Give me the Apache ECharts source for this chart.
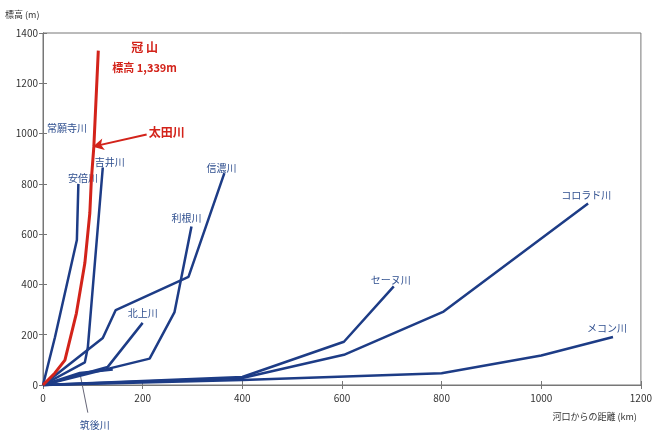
<!DOCTYPE html>
<html>
<head>
<meta charset="utf-8">
<script src="https://cdn.jsdelivr.net/npm/echarts@6/dist/echarts.min.js"></script>
<style>
  html, body { margin: 0; padding: 0; background: #fff; }
  #chart { width: 655px; height: 435px; }
</style>
</head>
<body>
<div id="chart"></div>
<script>
// 河口からの距離 (km) と標高 (m)
const xTicks = [0, 200, 400, 600, 800, 1000, 1200]
const yTicks = [0, 200, 400, 600, 800, 1000, 1200, 1400]

const ota = [[0, 0], [24, 48], [44, 99], [67, 285], [84, 485], [94, 684], [97, 815], [102, 947], [111, 1330]]
const abe = [[0, 0], [24, 190], [68, 577], [71, 800]]
const yoshii = [[0, 0], [84, 90], [90, 150], [120, 865]]
const shinano = [[0, 0], [120, 187], [146, 298], [292, 430], [364, 843]]
const tone = [[0, 0], [134, 66], [214, 105], [264, 290], [298, 630]]
const kitakami = [[0, 0], [130, 72], [200, 247]]
const chikugo = [[0, 0], [74, 48], [140, 62]]
const seine = [[0, 0], [400, 32], [604, 172], [704, 392]]
const colorado = [[0, 0], [400, 28], [604, 120], [804, 292], [1094, 722]]
const mekong = [[0, 0], [400, 20], [800, 47], [1000, 117], [1144, 191]]

// ラベル位置 (データ座標, 左端)
const labels = [
  { text: '常願寺川', at: [8, 1022] },
  { text: '吉井川', at: [104, 887] },
  { text: '安倍川', at: [50, 823] },
  { text: '信濃川', at: [328, 863] },
  { text: '利根川', at: [258, 664] },
  { text: '北上川', at: [170, 286] },
  { text: '筑後川', at: [74, -160] },
  { text: 'セーヌ川', at: [658, 418] },
  { text: 'コロラド川', at: [1040, 756] },
  { text: 'メコン川', at: [1092, 227] }
]

const navy = '#1d3c86'
const red = '#d3231a'
const labelBlue = '#2f4f8f'
const font = '"Noto Sans CJK JP", "DejaVu Sans", sans-serif'

const chart = echarts.init(document.getElementById('chart'))

const riverLine = (data, color, width) => ({
  type: 'line',
  data: data,
  symbol: 'none',
  clip: false,
  lineStyle: { color: color, width: width },
  z: color === red ? 5 : 3
})

const plain = v => String(v)

const option = {
  backgroundColor: '#fff',
  animation: false,
  grid: { left: 43, right: 12, top: 33, bottom: 50, show: true, borderColor: '#777', borderWidth: 1 },
  xAxis: [
    {
      type: 'value', min: xTicks[0], max: xTicks[xTicks.length - 1], interval: 200,
      axisLine: { show: true, lineStyle: { color: '#777' } },
      axisTick: { show: true, inside: true, length: 4, lineStyle: { color: '#777' } },
      axisLabel: { color: '#333', fontSize: 10, fontFamily: font, margin: 8, formatter: plain },
      splitLine: { show: false },
      name: '河口からの距離 (km)',
      nameLocation: 'end',
      nameGap: 0,
      nameTextStyle: { color: '#333', fontSize: 9, fontFamily: font, align: 'right', verticalAlign: 'top', padding: [27, 4, 0, 0] }
    },
    {
      type: 'value', min: xTicks[0], max: xTicks[xTicks.length - 1], interval: 200, position: 'top',
      axisLine: { show: true, lineStyle: { color: '#777' } },
      axisTick: { show: true, inside: true, length: 4, lineStyle: { color: '#777' } },
      axisLabel: { show: false },
      splitLine: { show: false }
    }
  ],
  yAxis: [
    {
      type: 'value', min: yTicks[0], max: yTicks[yTicks.length - 1], interval: 200,
      axisLine: { show: true, lineStyle: { color: '#777' } },
      axisTick: { show: true, inside: true, length: 4, lineStyle: { color: '#777' } },
      axisLabel: { color: '#333', fontSize: 10, fontFamily: font, margin: 5, formatter: plain },
      splitLine: { show: false },
      name: '標高 (m)',
      nameLocation: 'end',
      nameGap: 14,
      nameTextStyle: { color: '#333', fontSize: 9, fontFamily: font, align: 'left', padding: [0, 0, 0, -38] }
    },
    {
      type: 'value', min: yTicks[0], max: yTicks[yTicks.length - 1], interval: 200, position: 'right',
      axisLine: { show: true, lineStyle: { color: '#777' } },
      axisTick: { show: true, inside: true, length: 4, lineStyle: { color: '#777' } },
      axisLabel: { show: false },
      splitLine: { show: false }
    }
  ],
  series: [
    riverLine(mekong, navy, 2.5),
    riverLine(colorado, navy, 2.5),
    riverLine(seine, navy, 2.5),
    riverLine(chikugo, navy, 2.5),
    riverLine(kitakami, navy, 2.5),
    riverLine(tone, navy, 2.5),
    riverLine(shinano, navy, 2.5),
    riverLine(yoshii, navy, 2.5),
    riverLine(abe, navy, 2.5),
    Object.assign(riverLine(ota, red, 3), {
      markLine: {
        silent: true,
        symbol: ['none', 'arrow'],
        symbolSize: [9, 11],
        label: { show: false },
        lineStyle: { color: red, width: 2, type: 'solid' },
        data: [[{ coord: [208, 996] }, { coord: [100, 948] }]]
      }
    })
  ]
}
chart.setOption(option)

// テキスト注記
const graphics = labels.map(l => {
  const p = chart.convertToPixel({ xAxisIndex: 0, yAxisIndex: 0 }, l.at)
  return {
    type: 'text', x: p[0], y: p[1],
    style: { text: l.text, fill: labelBlue, font: '10px ' + font, verticalAlign: 'middle' }
  }
})
const p0 = chart.convertToPixel({ xAxisIndex: 0, yAxisIndex: 0 }, [74, 48])
const p1 = chart.convertToPixel({ xAxisIndex: 0, yAxisIndex: 0 }, [90, -110])
graphics.push({ type: 'line', shape: { x1: p0[0], y1: p0[1], x2: p1[0], y2: p1[1] }, style: { stroke: '#667', lineWidth: 1 } })
const pk = chart.convertToPixel({ xAxisIndex: 0, yAxisIndex: 0 }, [204, 1343])
graphics.push({ type: 'text', x: pk[0], y: pk[1], style: { text: '冠 山', fill: red, font: 'bold 12px ' + font, align: 'center', verticalAlign: 'middle' } })
const ph = chart.convertToPixel({ xAxisIndex: 0, yAxisIndex: 0 }, [204, 1263])
graphics.push({ type: 'text', x: ph[0], y: ph[1], style: { text: '標高 1,339m', fill: red, font: 'bold 11px ' + font, align: 'center', verticalAlign: 'middle' } })
const po = chart.convertToPixel({ xAxisIndex: 0, yAxisIndex: 0 }, [212, 1006])
graphics.push({ type: 'text', x: po[0], y: po[1], style: { text: '太田川', fill: red, font: 'bold 12px ' + font, verticalAlign: 'middle' } })

chart.setOption({ graphic: graphics })
</script>
</body>
</html>
